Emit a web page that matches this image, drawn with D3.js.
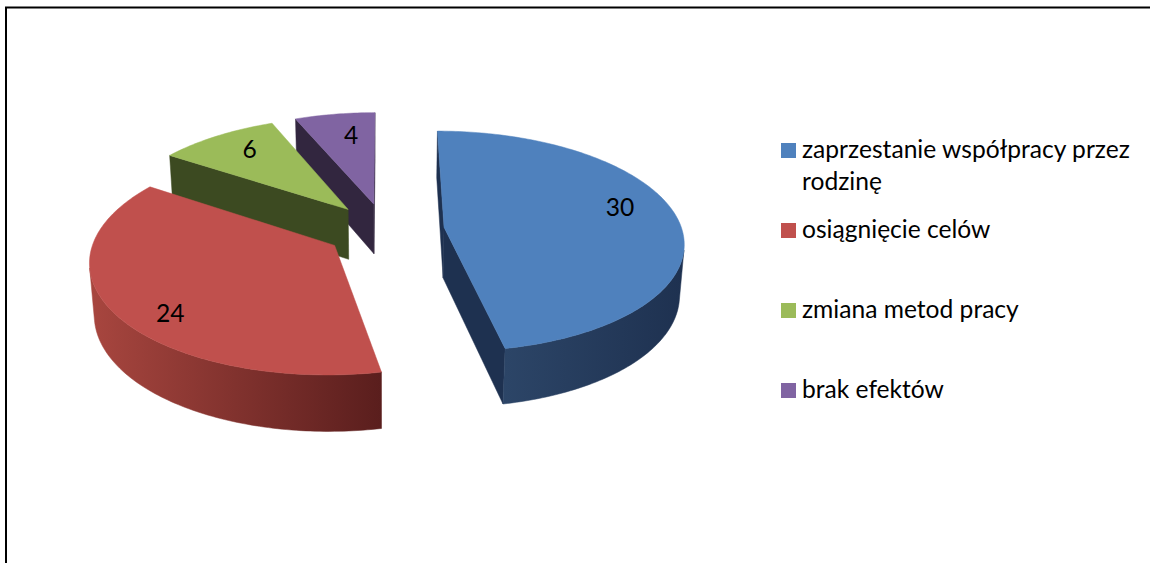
<!DOCTYPE html>
<html>
<head>
<meta charset="utf-8">
<script src="https://cdn.jsdelivr.net/npm/d3@7"></script>
<style>
  html, body { margin: 0; padding: 0; background: #fff; }
  svg { display: block; }
</style>
</head>
<body>
<svg id="chart" width="1150" height="563"></svg>
<script>
// chart data
var categories = ["zaprzestanie współpracy przez rodzinę", "osiągnięcie celów", "zmiana metod pracy", "brak efektów"];
var values = [30, 24, 6, 4];

// look
var topColors = ["#4F81BD", "#C0504D", "#9BBB59", "#8064A2"];
var sideLight = ["#2C4567", "#A8463F", "#415026", "#3A2C4A"];
var sideDark  = ["#1E3150", "#5A1E1D", "#3C4A21", "#32263F"];
var labelShift = [-8.5, -8.4, 2.4, 2.6];   // degrees, label angle vs slice middle
var labelRadius = [0.79, 0.83, 0.78, 0.74];

var svg = d3.select("#chart");
var font = "Lato, 'Open Sans', sans-serif";
var fontSize = "24.6px";

// frame (only left + top are visible in the picture)
svg.append("rect")
    .attr("x", 6).attr("y", 7.5)
    .attr("width", 1200).attr("height", 600)
    .attr("fill", "none").attr("stroke", "#000").attr("stroke-width", 2);

// 3d pie camera
var cx = 385, cy = 230, R = 238, T = 58, explode = 0.25;
var phi = Math.asin(0.458), D = 1680;
var camX = 0, camZ = -D * Math.cos(phi);

function project(X, Y, Z) {
  var d = D + Z * Math.cos(phi) - Y * Math.sin(phi);
  return [cx + D * X / d, cy - D * (Y * Math.cos(phi) + Z * Math.sin(phi)) / d];
}

var pie = d3.pie().sort(null).value(function(d) { return d; });
var arcs = pie(values);
var rad = Math.PI / 180;

var slices = arcs.map(function(a, i) {
  var mid = (a.startAngle + a.endAngle) / 2;
  return {
    i: i, a0: a.startAngle, a1: a.endAngle, mid: mid,
    ox: explode * R * Math.sin(mid),
    oz: explode * R * Math.cos(mid)
  };
});

var line = d3.line();
var defs = svg.append("defs");
var g = svg.append("g");

function facing(px, pz, nx, nz) {
  return (camX - px) * nx + (camZ - pz) * nz > 0;
}

// farthest slices first
slices.slice().sort(function(a, b) { return b.oz - a.oz; }).forEach(function(s) {
  var sg = g.append("g").attr("class", "slice");
  var n = Math.max(8, Math.ceil((s.a1 - s.a0) / rad));
  var ang = d3.range(n + 1).map(function(k) { return s.a0 + (s.a1 - s.a0) * k / n; });
  function P(theta, r, Y) {
    return project(s.ox + r * Math.sin(theta), Y, s.oz + r * Math.cos(theta));
  }

  // radial side faces
  [[s.a0, s.a0 - Math.PI / 2], [s.a1, s.a1 + Math.PI / 2]].forEach(function(f) {
    var nx = Math.sin(f[1]), nz = Math.cos(f[1]);
    var px = s.ox + 0.5 * R * Math.sin(f[0]), pz = s.oz + 0.5 * R * Math.cos(f[0]);
    if (!facing(px, pz, nx, nz)) return;
    var pts = [P(0, 0, 0), P(f[0], R, 0), P(f[0], R, -T), P(0, 0, -T)];
    sg.append("path").attr("d", line(pts) + "Z")
        .attr("fill", sideDark[s.i]).attr("stroke", sideDark[s.i]).attr("stroke-width", 0.5);
  });

  // outer wall, only the runs that face the camera
  var runs = [], cur = null;
  for (var k = 0; k < n; k++) {
    var tm = (ang[k] + ang[k + 1]) / 2;
    var vis = facing(s.ox + R * Math.sin(tm), s.oz + R * Math.cos(tm), Math.sin(tm), Math.cos(tm));
    if (vis) {
      if (!cur) { cur = [ang[k]]; runs.push(cur); }
      cur.push(ang[k + 1]);
    } else cur = null;
  }
  runs.forEach(function(run, j) {
    var topPts = run.map(function(t) { return P(t, R, 0); });
    var botPts = run.map(function(t) { return P(t, R, -T); }).reverse();
    var xs = topPts.map(function(p) { return p[0]; });
    var id = "wall" + s.i + "_" + j;
    var grad = defs.append("linearGradient").attr("id", id)
        .attr("gradientUnits", "userSpaceOnUse")
        .attr("x1", d3.min(xs)).attr("x2", d3.max(xs)).attr("y1", 0).attr("y2", 0);
    grad.append("stop").attr("offset", "0%").attr("stop-color", sideLight[s.i]);
    grad.append("stop").attr("offset", "100%").attr("stop-color", sideDark[s.i]);
    sg.append("path").attr("d", line(topPts.concat(botPts)) + "Z")
        .attr("fill", "url(#" + id + ")").attr("stroke", "url(#" + id + ")").attr("stroke-width", 0.5);
  });

  // top face
  var top = [P(0, 0, 0)].concat(ang.map(function(t) { return P(t, R, 0); }));
  sg.append("path").attr("d", line(top) + "Z")
      .attr("fill", topColors[s.i]).attr("stroke", topColors[s.i]).attr("stroke-width", 0.5);
});

// data labels
slices.forEach(function(s) {
  var t = s.mid + labelShift[s.i] * rad, r = labelRadius[s.i] * R;
  var p = project(s.ox + r * Math.sin(t), 0, s.oz + r * Math.cos(t));
  svg.append("text")
      .attr("x", p[0]).attr("y", p[1]).attr("dy", "0.35em")
      .attr("text-anchor", "middle")
      .style("font-family", font).style("font-size", fontSize).attr("fill", "#000")
      .text(values[s.i]);
});

// legend
var legendY = d3.scaleLinear().domain([0, categories.length - 1]).range([158, 398]);
var legend = svg.append("g").attr("class", "legend");
categories.forEach(function(c, i) {
  var y = legendY(i);
  legend.append("rect").attr("x", 781).attr("y", y - 15).attr("width", 15).attr("height", 15)
      .attr("fill", topColors[i]);
  var txt = legend.append("text").attr("x", 802).attr("y", y)
      .style("font-family", font).style("font-size", fontSize).attr("fill", "#000");
  // wrap long names
  var words = c.split(" "), lineWords = [];
  var tsp = txt.append("tspan").attr("x", 802).attr("dy", 0);
  words.forEach(function(w) {
    lineWords.push(w);
    tsp.text(lineWords.join(" "));
    if (tsp.node().getComputedTextLength() > 340 && lineWords.length > 1) {
      lineWords.pop();
      tsp.text(lineWords.join(" "));
      lineWords = [w];
      tsp = txt.append("tspan").attr("x", 802).attr("dy", 32).text(w);
    }
  });
});
</script>
</body>
</html>
